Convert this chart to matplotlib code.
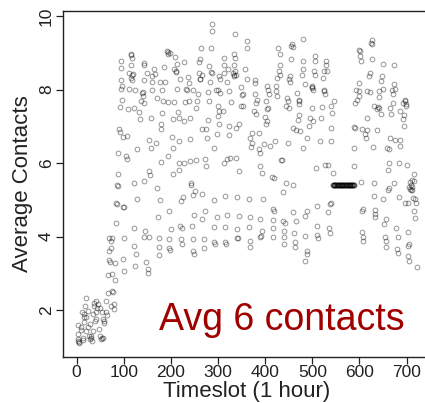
import numpy as np
import matplotlib
matplotlib.use('Agg')
from matplotlib import pyplot as plt

plt.rcParams['font.family'] = ['Liberation Sans', 'DejaVu Sans']

# (timeslot, average contacts), region by region
early = [(87,5.38),(85,4.89),(98,4.81),(84,4.36),(69,3.96),(73,3.89),(101,3.96),(122,3.75),
         (69,3.61),(68,3.36),(82,3.27),(98,3.39),(101,3.05),(126,3.52),(124,3.21),(147,3.3),
         (151,3.12),(151,3.0),(66,2.96),(75,2.98),(82,2.82),(76,2.53),(66,2.46),(21,2.33),
         (18,2.12),(41,2.24),(45,2.16),(49,2.06),(62,2.24),(80,2.16),(80,2.03),(11,1.94),
         (25,1.98),(35,1.89),(54,1.94),(62,1.94),(21,1.82),(41,1.76),(55,1.76),(59,1.64),
         (2,1.6),(16,1.67),(28,1.62),(9,1.53),(47,1.48),(20,1.44),(34,1.44),(4,1.35),
         (27,1.3),(49,1.3),(2,1.21),(13,1.24),(30,1.24),(54,1.24),(4,1.15),(33,1.15),
         (13,1.17),(29,1.2),(52,1.22),(5,1.12),(38,2.1),(42,1.95),(16,1.8),(58,1.7),
         (72,2.1),(78,2.5),(70,3.3),(74,3.7),(76,3.95),(6,1.1),(31,1.28),(44,2.05),
         (24,1.55),(15,1.9),(36,2.2),(56,1.25),(64,1.85),(10,1.45),(39,1.7)]

lower_mid = [(170,5.32),(243,5.41),(252,5.25),(267,5.17),(247,5.14),(226,5.08),(221,4.96),
             (129,5.02),(177,4.99),(292,4.99),(315,5.11),(340,5.08),(197,4.69),(172,4.52),
             (250,4.59),(273,4.69),(267,4.48),(297,4.52),(320,4.59),(345,4.57),(122,4.23),
             (146,4.14),(153,4.0),(200,4.2),(219,4.3),(223,4.23),(245,4.3),(292,4.25),
             (315,4.25),(340,4.2),(144,3.98),(175,3.96),(174,3.72),(175,3.51),(197,3.93),
             (198,3.63),(221,3.93),(223,3.8),(247,3.93),(247,3.61),(250,3.52),(271,3.93),
             (271,3.69),(294,3.81),(317,3.81),(342,3.96),(365,5.02),(395,5.02),(438,5.2),
             (485,4.57),(416,4.75),(419,4.7),(460,4.66),(489,4.7),(511,4.84),(537,4.89),
             (533,4.66),(367,4.54),(390,4.48),(416,4.45),(438,4.41),(443,4.36),(466,4.41),
             (365,4.25),(393,4.16),(416,4.22),(439,4.16),(441,3.99),(462,4.09),(485,4.02),
             (510,4.3),(511,4.05),(513,3.96),(535,4.23),(537,4.09),(367,3.89),(367,3.71),
             (391,4.02),(390,3.98),(416,4.0),(441,3.8),(464,3.84),(464,3.71),(489,3.61),
             (489,3.52),(485,3.33),(197,3.68),(292,3.86),(314,3.86),(340,3.95)]

upper_left = [(288,9.79),(287,9.59),(336,9.52),(115,8.97),(117,8.87),(94,8.78),(115,8.68),
              (143,8.73),(143,8.66),(191,9.05),(193,8.97),(209,8.9),(214,8.7),(264,9.14),
              (286,9.14),(262,8.82),(260,8.76),(312,8.87),(334,8.97),(336,8.87),(333,8.68),
              (313,8.66),(336,8.52),(112,8.46),(119,8.43),(115,8.32),(117,8.25),(94,8.26),
              (142,8.25),(165,8.55),(167,8.43),(161,8.37),(186,8.61),(188,8.21),(207,8.55),
              (211,8.48),(236,8.35),(238,8.19),(260,8.46),(262,8.28),(281,8.64),(287,8.46),
              (284,8.21),(303,8.37),(305,8.28),(313,8.46),(331,8.46),(333,8.37),(338,8.41),
              (94,8.03),(112,8.03),(160,8.21),(161,8.0),(182,8.0),(213,8.02),(234,8.0),
              (257,7.89),(279,7.94),(301,7.98),(305,7.92),(324,7.96),(349,8.07),(351,7.85),
              (138,7.91),(140,7.82),(137,7.7),(143,7.64),(96,7.71),(92,7.53),(110,7.46),
              (121,7.5),(170,7.78),(184,7.69),(193,7.66),(206,7.67),(231,7.67),(239,7.69),
              (255,7.69),(253,7.5),(281,7.69),(299,7.55),(303,7.43),(310,7.43),(327,7.67),
              (349,7.55),(133,7.39),(134,7.19),(158,7.22),(182,7.37),(216,7.39),(204,7.19),
              (218,7.22),(228,7.14),(241,7.23),(279,7.16),(299,7.28),(303,7.07),(323,7.01),
              (338,6.96),(345,7.05),(89,6.94),(92,6.85),(108,6.73),(98,6.71),(154,6.64),
              (168,6.55),(179,7.05),(179,6.92),(202,6.71),(218,6.6),(241,6.66),(276,6.69),
              (267,6.94),(274,6.94),(297,6.8),(324,6.76),(88,6.28),(105,6.19),(107,6.1),
              (129,6.37),(158,6.4),(179,6.03),(193,6.19),(204,6.4),(218,6.01),(227,6.01),
              (241,6.05),(253,6.08),(273,6.1),(274,5.92),(291,6.42),(313,6.01),(320,6.1),
              (325,6.14),(339,6.13),(345,5.78),(87,5.69),(121,5.46),(144,5.51),(154,5.78),
              (156,5.67),(204,5.69),(218,5.8),(243,5.46),(85,5.4),(84,4.9),(100,4.8),
              (94,8.6),(96,8.1),(124,8.0),(198,9.0),(220,8.3),(247,8.0),(266,8.4),(320,8.2),
              (150,8.45),(176,8.2),(228,8.75),(296,8.0),(322,8.55),(116,8.95),(117,8.4),
              (193,9.02),(211,8.52),(233,8.03),(262,8.3),(285,8.48),(334,8.4),(140,7.93)]

upper_right = [(361,9.32),(361,9.14),(481,9.39),(457,9.23),(459,9.16),(427,9.12),(431,8.97),
               (455,8.84),(480,8.78),(505,8.91),(506,8.78),(528,8.79),(530,8.68),(600,9.09),
               (602,8.91),(603,8.78),(627,9.34),(627,9.23),(627,8.82),(650,8.7),(674,8.66),
               (432,8.68),(429,8.5),(432,8.41),(480,8.55),(478,8.39),(503,8.5),(505,8.39),
               (524,8.52),(531,8.5),(358,8.55),(361,8.28),(378,8.25),(379,8.19),(404,8.1),
               (425,8.32),(424,8.1),(452,8.37),(453,8.2),(485,8.16),(499,8.1),(501,8.0),
               (523,8.32),(620,8.37),(623,8.46),(648,8.37),(646,8.23),(598,8.19),(673,8.14),
               (676,8.03),(354,7.87),(379,7.87),(383,7.73),(380,7.64),(407,8.0),(409,7.87),
               (425,7.82),(424,7.96),(446,7.78),(448,7.7),(467,7.91),(471,7.73),(471,7.61),
               (499,8.05),(524,7.96),(526,7.89),(545,7.7),(593,8.0),(595,7.73),(591,7.64),
               (600,7.82),(616,7.96),(622,7.94),(641,7.96),(641,7.8),(651,8.03),(669,7.98),
               (672,7.89),(697,7.73),(692,7.64),(671,7.64),(699,7.6),(354,7.55),(376,7.41),
               (381,7.34),(402,7.69),(404,7.46),(407,7.5),(400,7.25),(404,7.14),(402,7.05),
               (445,7.55),(450,7.5),(471,7.32),(469,7.16),(499,7.5),(496,7.23),(494,7.0),
               (501,7.14),(518,7.22),(520,7.52),(540,7.55),(542,7.37),(540,6.96),(591,6.96),
               (616,7.22),(630,7.55),(637,7.46),(641,7.5),(646,7.34),(665,7.5),(667,7.34),
               (687,7.41),(694,7.32),(692,7.19),(699,7.55),(372,6.83),(368,6.69),(372,6.55),
               (370,6.43),(386,6.83),(397,6.51),(411,6.46),(421,6.6),(448,6.55),(460,6.96),
               (466,6.89),(473,6.87),(489,6.69),(516,6.6),(540,6.6),(588,6.98),(605,6.94),
               (616,6.91),(612,6.78),(614,6.67),(638,6.91),(629,6.43),(658,6.42),(664,6.69),
               (676,6.64),(687,6.64),(687,6.46),(695,7.0),(386,6.37),(390,6.28),(436,6.07),
               (481,6.42),(508,5.87),(533,5.94),(544,5.74),(588,6.42),(588,5.92),(662,6.37),
               (662,6.01),(660,5.8),(683,6.01),(701,5.94),(715,5.71),(716,5.51),(388,5.92),
               (393,5.74),(418,5.6),(414,5.62),(434,6.08),(444,5.45),(458,5.4),(527,5.95),
               (603,5.49),(630,5.45),(674,5.45),(662,5.31),(705,5.36),(707,5.49),(709,5.27),
               (711,5.54),(712,5.27),(710,5.4),(455,9.2),(601,9.05),(625,9.27),(451,8.3),
               (499,8.07),(696,7.7),(600,7.97),(639,7.52),(524,7.98),(471,7.68)]

lower_right = [(605,4.7),(607,4.75),(630,5.11),(651,5.02),(660,5.27),(683,5.07),(708,5.29),
               (711,5.34),(718,5.02),(721,4.9),(715,4.7),(718,4.5),(632,4.72),(632,4.61),
               (634,4.54),(657,4.48),(653,4.34),(678,4.23),(702,4.11),(605,4.11),(607,4.0),
               (607,3.89),(655,4.0),(657,3.89),(657,3.72),(681,4.0),(680,3.66),(681,3.54),
               (704,3.75),(706,3.8),(704,3.48),(706,3.34),(722,3.18),(697,4.9),(704,4.9),
               (714,5.04),(539,4.9)]

# the flat run near slot 550, all at the same value
flat_slots = np.arange(543, 590)
flat_value = 5.4

points = early + lower_mid + upper_left + upper_right + lower_right
slots = np.array([p[0] for p in points] + list(flat_slots))
contacts = np.array([p[1] for p in points] + [flat_value] * len(flat_slots))

fig = plt.figure(figsize=(4.25, 4.03), dpi=100)
ax = fig.add_axes([63 / 425, 1 - 357 / 403, 366.6 / 425, 346 / 403])
ax.plot(slots, contacts, linestyle='none', marker='o', markersize=3.4,
        markerfacecolor='none', markeredgecolor=(0, 0, 0, 0.42), markeredgewidth=0.7)

ax.set_xlim(-28.8, 748.8)
ax.set_ylim(0.72, 10.14)
ax.set_xticks([0, 100, 200, 300, 400, 500, 600, 700])
ax.set_yticks([2, 4, 6, 8, 10])
ax.tick_params(direction='out', length=5, width=0.9, labelsize=12.5, colors='#222222')
ax.tick_params(axis='x', pad=0.5)
ax.tick_params(axis='y', pad=1.5)
for lab in ax.get_yticklabels():
    lab.set_rotation(90)
    lab.set_va('center')
ax.spines['right'].set_visible(False)
for s in ax.spines.values():
    s.set_linewidth(1.0)
    s.set_color('#222222')

ax.set_xlabel('Timeslot (1 hour)', fontsize=16, color='#222222')
ax.xaxis.set_label_coords(0.5, -0.068)
ax.set_ylabel('Average Contacts', fontsize=16, labelpad=4, color='#222222')

fig.text(159 / 425, 1 - 330 / 403, 'Avg 6 contacts', fontsize=27,
         color='#a00000', ha='left', va='baseline')

fig.savefig('out.png', dpi=100)
